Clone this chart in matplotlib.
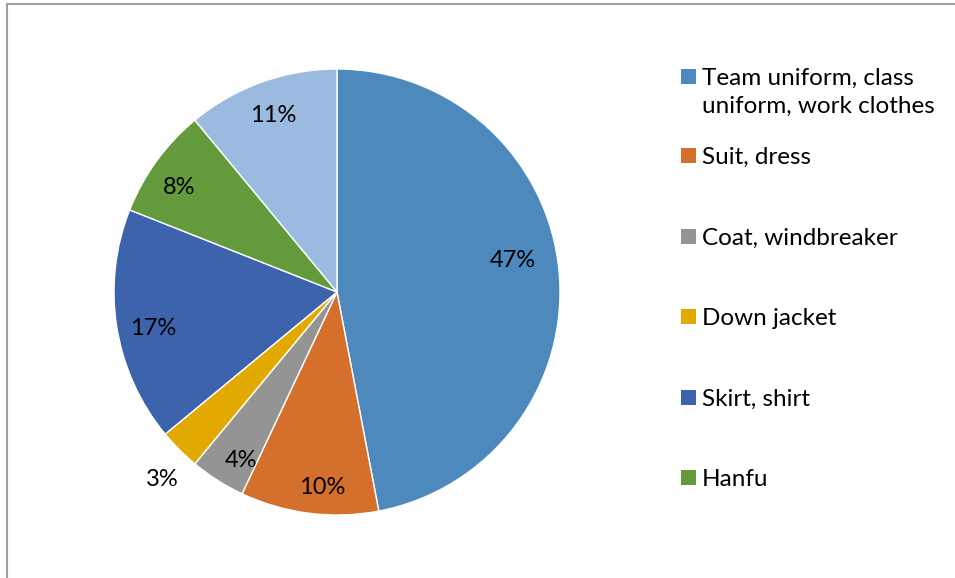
import matplotlib.pyplot as plt
from matplotlib.lines import Line2D
from matplotlib.patches import Rectangle
import numpy as np

categories = ['Team uniform, class\nuniform, work clothes', 'Suit, dress',
              'Coat, windbreaker', 'Down jacket', 'Skirt, shirt', 'Hanfu']
shares = [47, 10, 4, 3, 17, 8, 11]
colors = ['#4E89BE', '#D4702B', '#949494', '#E2AA00', '#3D63AD', '#639B3C', '#9BBAE0']
# percentage label placement: radius fraction and angular nudge (deg)
label_r = [0.80, 0.88, 0.87, 1.15, 0.84, 0.85, 0.84]
label_shift = [4.9, 2.8, 2.8, 2.1, 2.1, 2.4, 0.0]

plt.rcParams['font.family'] = ['Lato', 'DejaVu Sans']

W, H = 955, 578
fig = plt.figure(figsize=(W / 100, H / 100), dpi=100)

# pie centre and radius in pixels
cx, cy, r = 337, 292, 223
ax = fig.add_axes([(cx - r) / W, (H - cy - r) / H, 2 * r / W, 2 * r / H])
wedges, _ = ax.pie(shares, colors=colors, startangle=90, counterclock=False,
                   radius=1.0, wedgeprops=dict(edgecolor='white', linewidth=1))
ax.set_xlim(-1, 1)
ax.set_ylim(-1, 1)
ax.set_aspect('equal')
ax.axis('off')

for w, v, d, s in zip(wedges, shares, label_r, label_shift):
    ang = np.deg2rad((w.theta1 + w.theta2) / 2 + s)
    ax.text(d * np.cos(ang), d * np.sin(ang), '%d%%' % v, ha='center', va='center',
            fontsize=17, color='black', clip_on=False)

# legend on the right; marker sits on the first text line
ys = [76, 155, 236, 316, 397, 477]
for name, col, y in zip(categories, colors, ys):
    fig.patches.append(Rectangle((681 / W, 1 - (y + 7.5) / H), 15 / W, 15 / H,
                                 transform=fig.transFigure, facecolor=col,
                                 edgecolor='none'))
    for i, line in enumerate(name.split('\n')):
        fig.text(702 / W, 1 - (y + 28 * i) / H, line, ha='left',
                 va='center_baseline', fontsize=17.5, color='black')

# chart frame (only top and left edges are visible)
fig.add_artist(Line2D([6.5 / W, 1], [1 - 4 / H, 1 - 4 / H], color='#A0A0A0', lw=1.5))
fig.add_artist(Line2D([6.5 / W, 6.5 / W], [0, 1 - 4 / H], color='#A0A0A0', lw=1.5))

fig.savefig('out.png', dpi=100)
